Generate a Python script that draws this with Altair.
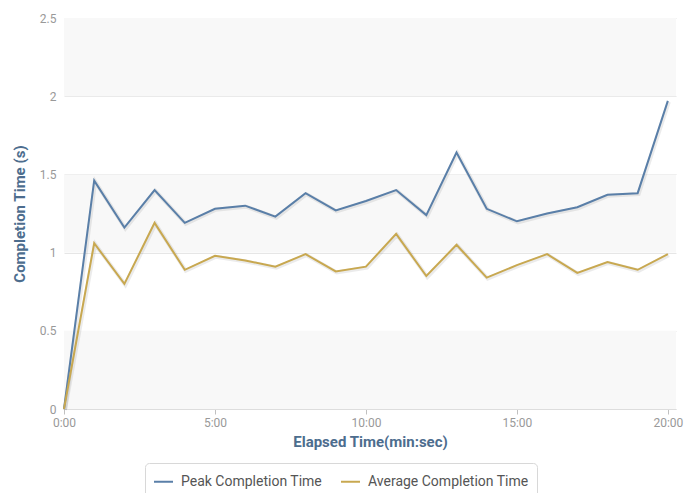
import altair as alt
import pandas as pd

minutes = list(range(21))
peak = [0, 1.46, 1.16, 1.40, 1.19, 1.28, 1.30, 1.23, 1.38, 1.27, 1.33, 1.40, 1.24, 1.64, 1.28, 1.20, 1.25, 1.29, 1.37, 1.38, 1.97]
avg = [0, 1.06, 0.80, 1.19, 0.89, 0.98, 0.95, 0.91, 0.99, 0.88, 0.91, 1.12, 0.85, 1.05, 0.84, 0.92, 0.99, 0.87, 0.94, 0.89, 0.99]
series_names = ["Peak Completion Time", "Average Completion Time"]
series_colors = ["#5a7fa8", "#c8a850"]
band_lo = [0, 1, 2]
band_hi = [0.5, 1.5, 2.5]

rows = []
for m, p, a in zip(minutes, peak, avg):
    rows.append({"t": m, "v": p, "s": series_names[0]})
    rows.append({"t": m, "v": a, "s": series_names[1]})
df = pd.DataFrame(rows)
bands = pd.DataFrame({"lo": band_lo, "hi": band_hi})

FONT = "Roboto"
xscale = alt.Scale(domain=[0, 20.27], nice=False, zero=False)
yscale = alt.Scale(domain=[0, 2.5], nice=False)

band_layer = alt.Chart(bands).mark_rect(color="#f8f8f8").encode(
    x=alt.value(0), x2=alt.value(612),
    y=alt.Y("lo:Q", scale=yscale), y2="hi:Q",
)

shadow = alt.Chart(df).mark_line(strokeWidth=4, opacity=0.08, color="#000", xOffset=1, yOffset=1).encode(
    x=alt.X("t:Q", scale=xscale),
    y=alt.Y("v:Q", scale=yscale),
    detail="s:N",
)

lines = alt.Chart(df).mark_line(strokeWidth=2).encode(
    x=alt.X("t:Q", scale=xscale,
            axis=alt.Axis(title="Elapsed Time(min:sec)", values=[0, 5, 10, 15, 20],
                          labelExpr="floor(datum.value) + ':00'", grid=False, labelFlush=False,
                          domainColor="#dddddd", tickColor="#c0c0c0", tickSize=5,
                          labelColor="#999999", labelFontSize=12, labelFont=FONT,
                          labelPadding=3, titleFont=FONT, titleFontSize=15,
                          titleColor="#4d6d8e", titleFontWeight="bold", titlePadding=6)),
    y=alt.Y("v:Q", scale=yscale,
            axis=alt.Axis(title="Completion Time (s)", values=[0, 0.5, 1, 1.5, 2, 2.5],
                          labelExpr="datum.value", domain=False, ticks=False,
                          gridColor="#e6e6e6", labelColor="#999999", labelFontSize=12,
                          labelFont=FONT, labelPadding=8, titleFont=FONT, titleFontSize=15,
                          titleColor="#4d6d8e", titleFontWeight="bold", titlePadding=12)),
    color=alt.Color("s:N", scale=alt.Scale(domain=series_names, range=series_colors),
                    legend=alt.Legend(title=None, orient="none", direction="horizontal",
                                      legendX=81, legendY=445, symbolType="stroke",
                                      symbolStrokeWidth=2, symbolSize=361,
                                      labelFont=FONT, labelFontSize=14, labelColor="#555555",
                                      labelLimit=300,
                                      strokeColor="#d8d8d8", cornerRadius=4, padding=8,
                                      columnPadding=14, labelOffset=7)),
)

chart = alt.layer(band_layer, shadow, lines).properties(
    width=612, height=391,
    autosize=alt.AutoSizeParams(type="none"),
    padding={"left": 56, "top": 10, "right": 12, "bottom": 84},
).configure_view(stroke=None)

chart.save("out.html", embed_options={"renderer": "svg", "actions": False})
